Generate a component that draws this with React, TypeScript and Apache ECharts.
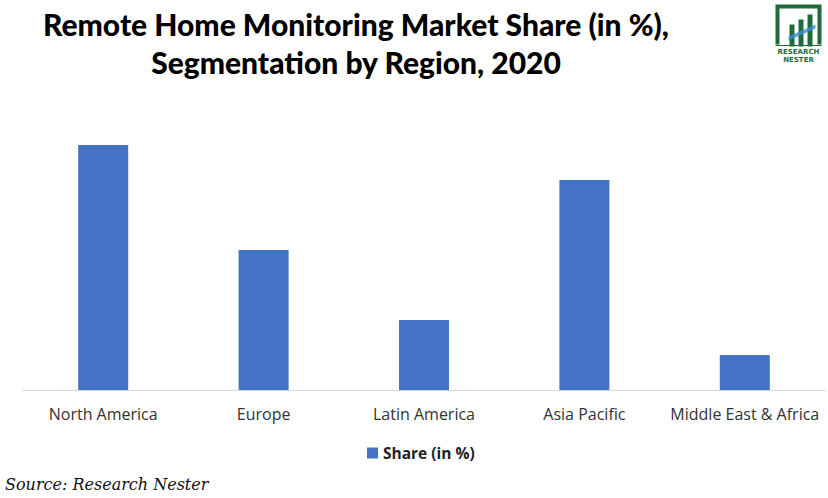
import React, { useEffect, useRef } from "react";
import * as echarts from "echarts";

const categories = ["North America", "Europe", "Latin America", "Asia Pacific", "Middle East & Africa"];
const shareValues = [35, 20, 10, 30, 5];
const seriesName = "Share (in %)";

export default function App() {
  const ref = useRef<HTMLDivElement>(null);
  useEffect(() => {
    const chart = echarts.init(ref.current!, null, { renderer: "svg" });
    chart.setOption({
      animation: false,
      backgroundColor: "#ffffff",
      title: {
        text: "Remote Home Monitoring Market Share (in %),\nSegmentation by Region, 2020",
        left: 351,
        textAlign: "center",
        top: 0,
        textStyle: { fontFamily: "Lato", fontWeight: 900, fontSize: 30, lineHeight: 38, color: "#000" },
      },
      legend: {
        data: [seriesName],
        bottom: 32,
        left: 362,
        itemWidth: 11,
        itemHeight: 11,
        itemGap: 6,
        icon: "rect",
        textStyle: { fontFamily: "Open Sans", fontWeight: "bold", fontSize: 15.5, color: "#222" },
      },
      grid: { left: 23, right: 3, top: 145, bottom: 108 },
      xAxis: {
        type: "category",
        data: categories,
        axisLine: { lineStyle: { color: "#d9d9d9", width: 1 } },
        axisTick: { show: false },
        axisLabel: { interval: 0, fontFamily: "Open Sans", fontSize: 16, color: "#333", margin: 16 },
      },
      yAxis: { type: "value", min: 0, max: 35, show: false, splitLine: { show: false } },
      series: [
        {
          name: seriesName,
          type: "bar",
          data: shareValues,
          barWidth: 50,
          itemStyle: { color: "#4472c4" },
        },
      ],
      graphic: [
        {
          type: "text",
          left: 5,
          top: 476,
          style: { text: "Source: Research Nester", font: "italic 16px 'DejaVu Serif'", fill: "#111" },
        },
        {
          type: "group",
          left: 773,
          top: 4,
          children: [
            { type: "polyline", shape: { points: [[2, 40], [2, 2], [44, 2], [44, 40]] }, style: { stroke: "#1f6b3a", lineWidth: 4, fill: "none" } },
            { type: "rect", shape: { x: 14, y: 20, width: 5, height: 22 }, style: { fill: "#1f6b3a" } },
            { type: "rect", shape: { x: 23, y: 15, width: 5, height: 27 }, style: { fill: "#1f6b3a" } },
            { type: "rect", shape: { x: 32, y: 10, width: 5, height: 32 }, style: { fill: "#1f6b3a" } },
            { type: "polygon", shape: { points: [[13, 32], [40, 20], [40, 24], [13, 36]] }, style: { fill: "#3a8fd6", opacity: 0.8 } },
            { type: "line", shape: { x1: 0, y1: 41, x2: 46, y2: 41 }, style: { stroke: "#1f6b3a", lineWidth: 1 } },
            { type: "text", x: 23, y: 44, style: { text: "RESEARCH", font: "bold 7px 'DejaVu Sans'", fill: "#1f6b3a", align: "center" } },
            { type: "text", x: 23, y: 52, style: { text: "NESTER", font: "bold 7px 'DejaVu Sans'", fill: "#1f6b3a", align: "center" } },
          ],
        },
      ],
    });
    return () => chart.dispose();
  }, []);
  return <div ref={ref} style={{ width: 828, height: 498, position: "absolute", left: 0, top: 0 }} />;
}
